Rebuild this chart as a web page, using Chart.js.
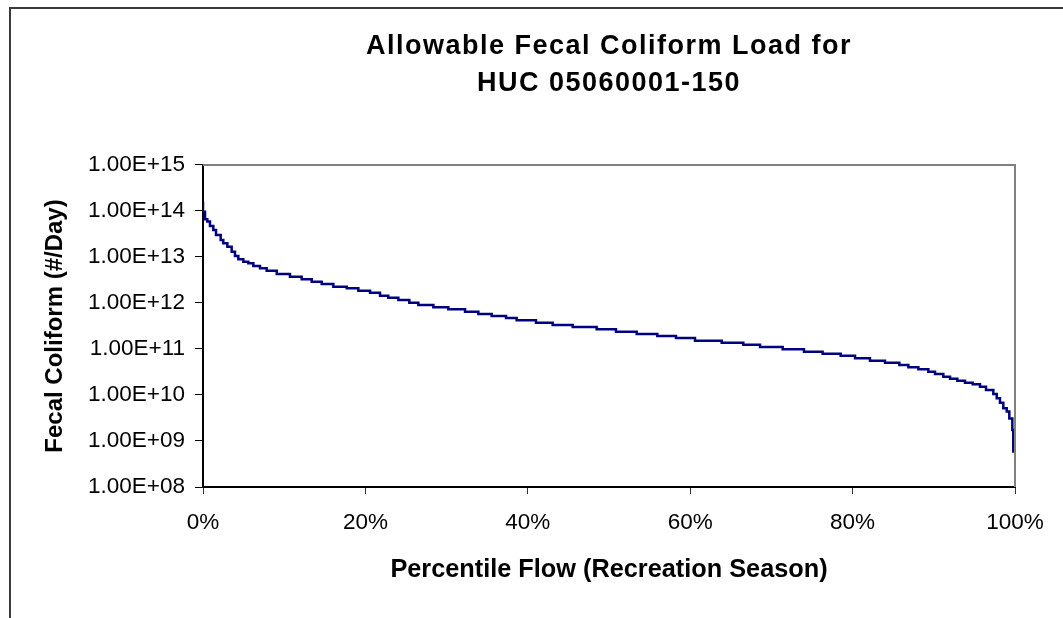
<!DOCTYPE html>
<html>
<head>
<meta charset="utf-8">
<script src="https://cdn.jsdelivr.net/npm/chart.js@4/dist/chart.umd.min.js"></script>
<style>
  html, body { margin: 0; padding: 0; background: #ffffff; }
  #wrap { position: relative; width: 1063px; height: 618px; overflow: hidden; }
  #frame { position: absolute; left: 9px; top: 7px; width: 1100px; height: 700px;
           border-left: 2px solid #3a3a3a; border-top: 2px solid #3a3a3a; box-sizing: border-box; }
  canvas { position: absolute; left: 0; top: 0; }
</style>
</head>
<body>
<div id="wrap">
  <div id="frame"></div>
  <canvas id="c" width="1063" height="618"></canvas>
</div>
<script>
// ---- data ----
const titleLines = ["Allowable Fecal Coliform Load for", "HUC 05060001-150"];
const xTitle = "Percentile Flow (Recreation Season)";
const yTitle = "Fecal Coliform (#/Day)";

// step starts of the load duration curve (percentile of flow, log10 of load)
const percentile = [
  0, 0.25, 0.53, 0.86, 1.27, 1.6, 2.18, 2.5, 3.0, 3.53, 3.94, 4.35, 4.97, 5.58, 6.2, 7.02, 7.84,
  9.08, 10.71, 12.15, 13.39, 14.62, 16.05, 17.7, 19.13, 20.57,
  21.80, 22.82, 24.06, 25.41, 26.52, 28.37, 30.21, 32.27, 33.91, 35.55, 37.32, 38.63, 41.01,
  43.06, 45.53, 48.48, 50.86, 53.41, 55.95, 58.25, 60.59, 63.88, 66.54, 68.60, 71.39, 74.01,
  76.31, 78.53, 80.3, 82.14, 83.99, 85.76, 86.87, 88.10, 89.33, 90.15, 91.17, 92.0, 92.90,
  93.84, 94.79, 95.69, 96.43, 97.33, 97.75, 98.15, 98.56, 98.98, 99.3, 99.67, 99.79, 100
];
const loadLog10 = [
  14.20, 13.985, 13.82, 13.77, 13.674, 13.587, 13.478, 13.37, 13.297, 13.225, 13.116, 13.022,
  12.949, 12.899, 12.862, 12.804, 12.754, 12.703, 12.63, 12.572, 12.515, 12.464, 12.413,
  12.355, 12.32, 12.268,
  12.225, 12.159, 12.116, 12.065, 12.007, 11.957, 11.906, 11.862, 11.812, 11.761, 11.717,
  11.674, 11.623, 11.572, 11.522, 11.478, 11.428, 11.377, 11.326, 11.283, 11.239, 11.181,
  11.138, 11.094, 11.043, 10.993, 10.942, 10.899, 10.855, 10.797, 10.746, 10.703, 10.652,
  10.601, 10.558, 10.507, 10.457, 10.399, 10.355, 10.312, 10.268, 10.232, 10.181, 10.109,
  10.022, 9.93, 9.83, 9.71, 9.64, 9.49, 9.24, 8.77
];

const xTickValues = [0, 20, 40, 60, 80, 100];
const xTickLabels = ["0%", "20%", "40%", "60%", "80%", "100%"];
const yTickValues = [1e8, 1e9, 1e10, 1e11, 1e12, 1e13, 1e14, 1e15];
const yTickLabels = ["1.00E+08", "1.00E+09", "1.00E+10", "1.00E+11", "1.00E+12", "1.00E+13", "1.00E+14", "1.00E+15"];

const points = percentile.map((p, i) => ({ x: p, y: Math.pow(10, loadLog10[i]) }));

const FONT = 'Arial, "Liberation Sans", sans-serif';

const plotFrame = {
  id: 'plotFrame',
  afterDatasetsDraw(chart) {
    const { ctx, chartArea: a } = chart;
    ctx.save();
    ctx.strokeStyle = '#808080';
    ctx.lineWidth = 2;
    ctx.beginPath();
    ctx.moveTo(a.left, a.top);
    ctx.lineTo(a.right, a.top);
    ctx.lineTo(a.right, a.bottom);
    ctx.stroke();
    ctx.restore();
  }
};

// wider letter spacing for the chart title (as rendered in the reference)
const titleSpacing = {
  id: 'titleSpacing',
  afterLayout(chart) {
    const tb = chart.titleBlock;
    if (tb && !tb._spaced) {
      const orig = tb.draw.bind(tb);
      tb.draw = function (area) {
        const ctx = chart.ctx;
        ctx.save();
        try { ctx.letterSpacing = '1.5px'; } catch (e) {}
        orig(area);
        ctx.restore();
      };
      tb._spaced = true;
    }
  }
};

new Chart(document.getElementById('c'), {
  type: 'line',
  data: {
    datasets: [{
      data: points,
      borderColor: '#000080',
      borderWidth: 2.5,
      pointRadius: 0,
      stepped: 'after',
      fill: false
    }]
  },
  options: {
    responsive: false,
    animation: false,
    layout: { padding: { left: 10, right: 48, top: 0, bottom: 0 } },
    plugins: {
      legend: { display: false },
      tooltip: { enabled: false },
      title: {
        display: true,
        fullSize: false,
        text: titleLines,
        color: '#000',
        font: { family: FONT, size: 27, weight: 'bold', lineHeight: 1.37 },
        padding: { top: 28, bottom: 63 }
      }
    },
    scales: {
      x: {
        type: 'linear',
        min: 0, max: 100,
        afterBuildTicks: s => { s.ticks = xTickValues.map(v => ({ value: v })); },
        afterFit: s => { s.height = 618 - 487; },
        ticks: {
          color: '#000',
          font: { family: FONT, size: 22.5 },
          padding: 15,
          maxRotation: 0,
          autoSkip: false,
          callback: v => xTickLabels[xTickValues.indexOf(v)]
        },
        grid: { display: true, drawOnChartArea: false, drawTicks: true, tickLength: 7, color: '#333' },
        border: { display: true, color: '#000', width: 2 },
        title: {
          display: true,
          text: xTitle,
          color: '#000',
          font: { family: FONT, size: 25.3, weight: 'bold' },
          padding: { top: 0, bottom: 33 }
        }
      },
      y: {
        type: 'logarithmic',
        min: 1e8, max: 1e15,
        afterBuildTicks: s => { s.ticks = yTickValues.map(v => ({ value: v })); },
        afterFit: s => { s.width = 203 - 10; },
        ticks: {
          color: '#000',
          font: { family: FONT, size: 22.5 },
          padding: 10,
          autoSkip: false,
          callback: v => yTickLabels[yTickValues.indexOf(v)]
        },
        grid: { display: true, drawOnChartArea: false, drawTicks: true, tickLength: 8, color: '#000' },
        border: { display: true, color: '#000', width: 2 },
        title: {
          display: true,
          text: yTitle,
          color: '#000',
          font: { family: FONT, size: 24, weight: 'bold' },
          padding: { top: 31, bottom: 0 }
        }
      }
    }
  },
  plugins: [plotFrame, titleSpacing]
});
</script>
</body>
</html>
